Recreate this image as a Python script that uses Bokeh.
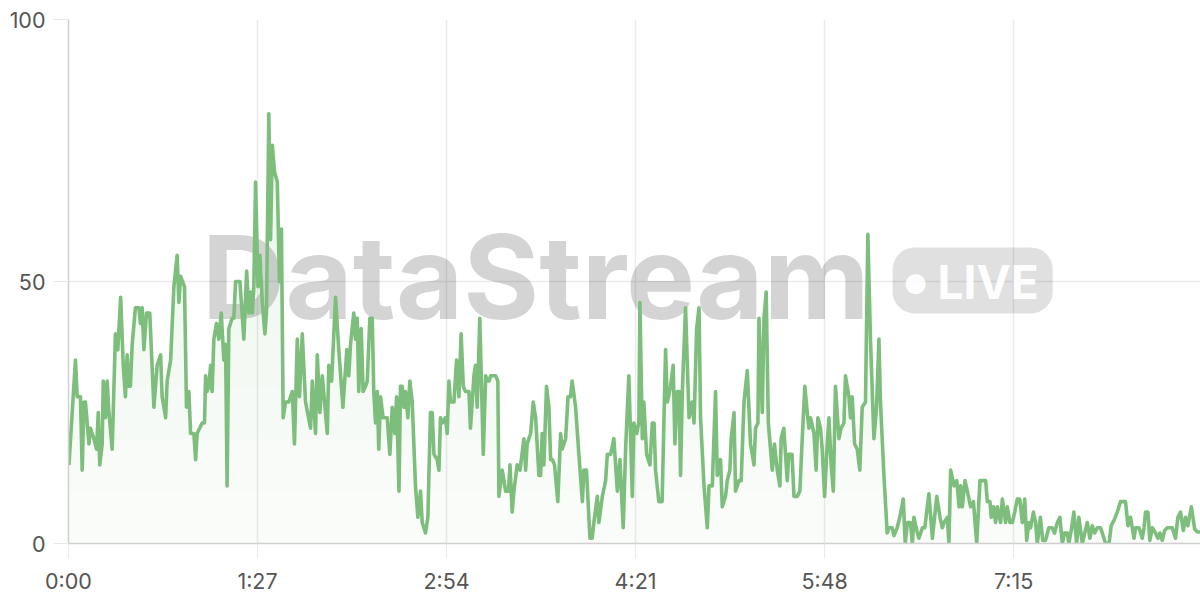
import numpy as np
from bokeh.plotting import figure
from bokeh.models import Range1d, FixedTicker, Label, BoxAnnotation
from bokeh.embed import file_html
from bokeh.resources import INLINE

# ---- data (elapsed seconds, value) ----
seconds = [
    0.2, 3.2, 4.0, 5.5, 6.3, 7.1, 7.8, 9.4, 10.1, 11.7, 12.9, 13.7, 14.4, 15.5, 16.0, 17.0, 17.8, 18.6, 20.1,
    21.6, 22.7, 24.0, 25.2, 26.2, 27.0, 27.8, 28.5, 29.3, 30.8, 32.4, 33.1, 33.9, 34.7, 35.9, 37.4, 39.3,
    40.8, 42.4, 43.1, 44.7, 45.4, 47.0, 48.5, 50.0, 50.8, 51.6, 53.4, 54.3, 55.4, 56.2, 57.7, 58.5, 59.2,
    61.5, 62.6, 63.1, 63.8, 64.6, 65.4, 66.1, 66.9, 68.1, 69.2, 70.3, 71.5, 72.3, 73.0, 73.8, 75.3, 76.1,
    76.9, 78.9, 80.7, 82.0, 83.0, 83.8, 84.6, 85.3, 86.1, 87.2, 88.1, 89.2, 90.4, 91.1, 92.2, 93.0, 93.8,
    94.8, 96.1, 97.1, 98.0, 98.8, 99.9, 101.4, 103.0, 104.0, 105.3, 106.3, 107.6, 109.1, 111.4, 112.2,
    113.7, 114.5, 115.7, 116.8, 119.1, 119.8, 121.1, 122.9, 124.4, 126.3, 128.1, 129.0, 129.8, 131.3,
    132.1, 132.9, 133.6, 134.7, 135.6, 136.7, 137.5, 138.7, 139.8, 140.5, 141.3, 142.1, 142.8, 143.6,
    144.8, 146.7, 147.9, 149.0, 150.2, 151.0, 152.1, 152.8, 153.6, 154.4, 155.1, 156.2, 157.1, 158.2,
    159.7, 160.8, 162.0, 162.8, 164.3, 165.4, 166.6, 167.4, 168.2, 169.7, 170.5, 171.2, 172.0, 173.5,
    174.3, 175.1, 175.8, 177.4, 178.6, 179.7, 180.7, 181.7, 182.7, 184.3, 185.0, 186.6, 187.3, 188.1,
    189.3, 190.9, 192.0, 192.7, 193.5, 194.3, 196.6, 197.6, 198.1, 199.6, 201.2, 202.5, 203.2, 204.2,
    205.0, 206.5, 207.8, 209.6, 210.4, 211.1, 212.7, 213.9, 215.0, 216.5, 217.3, 218.0, 218.8, 220.0,
    221.1, 221.9, 222.7, 223.7, 225.2, 226.5, 227.2, 228.8, 229.9, 231.0, 231.8, 233.4, 234.9, 236.5,
    237.2, 238.4, 240.0, 241.0, 241.8, 243.4, 244.1, 245.7, 247.2, 248.0, 249.5, 251.0, 252.6, 253.8,
    255.3, 256.4, 257.9, 259.5, 260.2, 261.5, 262.5, 263.0, 264.1, 264.8, 266.1, 267.6, 268.7, 269.5,
    270.2, 271.7, 273.2, 274.8, 275.6, 277.1, 278.3, 279.1, 280.2, 281.0, 281.7, 282.5, 284.0, 285.6,
    287.1, 287.9, 289.1, 290.2, 290.9, 292.5, 294.0, 294.8, 296.3, 297.8, 298.6, 300.1, 300.9, 302.4,
    303.2, 304.4, 305.0, 306.3, 307.0, 308.6, 309.6, 310.9, 312.4, 313.9, 315.5, 316.2, 317.3, 317.8,
    319.3, 320.1, 321.1, 322.1, 323.9, 324.9, 326.2, 327.4, 328.0, 329.2, 330.8, 331.5, 333.0, 333.9,
    335.4, 336.6, 337.7, 338.9, 340.0, 340.8, 341.5, 343.1, 344.1, 344.9, 346.1, 346.9, 348.0, 349.2,
    350.0, 351.0, 352.0, 353.0, 354.6, 355.6, 356.9, 357.6, 359.2, 359.9, 360.7, 361.8, 363.0, 364.2,
    365.3, 366.8, 367.9, 369.1, 370.7, 371.9, 373.0, 373.7, 375.3, 376.8, 377.6, 379.1, 379.9, 381.4,
    382.6, 384.2, 385.1, 386.1, 387.5, 388.4, 389.1, 390.7, 391.4, 393.0, 394.1, 396.0, 397.6, 399.6,
    401.1, 402.2, 403.0, 404.5, 405.2, 406.0, 407.6, 408.8, 409.9, 410.6, 411.4, 412.6, 413.7, 415.2,
    416.5, 418.0, 419.5, 422.1, 422.9, 424.1, 424.7, 425.7, 426.7, 427.5, 429.0, 429.8, 431.3, 432.1,
    433.3, 434.4, 435.5, 436.7, 437.8, 439.0, 440.1, 441.0, 442.1, 442.8, 444.1, 445.1, 445.9, 447.3,
    448.4, 449.7, 451.2, 452.7, 453.8, 455.1, 456.3, 457.4, 458.4, 459.7, 460.4, 461.5, 462.7, 464.0,
    465.0, 466.6, 467.7, 468.9, 470.1, 471.2, 472.3, 473.5, 475.0, 475.8, 477.3, 478.9, 479.9, 481.2,
    482.7, 484.2, 486.5, 487.6, 488.8, 490.4, 491.1, 492.7, 494.2, 495.0, 495.7, 496.8, 497.7, 498.8,
    500.3, 501.4, 502.3, 503.4, 504.5, 505.7, 508.0, 509.5, 510.6, 511.8, 513.1, 514.1, 515.2, 516.8,
    518.3, 519.5, 520.8,
]
values = [
    15, 35, 28, 28, 14, 27, 27, 19, 22, 20, 18, 25, 15, 19, 31, 24, 31, 25, 18,
    40, 37, 47, 34, 28, 36, 30, 30, 38, 45, 45, 42, 45, 37, 44, 44, 26,
    34, 36, 28, 24, 31, 35, 49, 55, 46, 51, 49, 26, 29, 21, 21, 16, 21,
    23, 23, 32, 29, 30, 34, 29, 39, 42, 39, 44, 35, 38, 11, 41, 43, 43,
    50, 50, 39, 52, 44, 48, 44, 49, 69, 49, 55, 46, 40, 44, 82, 58, 76,
    71, 69, 50, 60, 24, 27, 27, 29, 19, 39, 28, 40, 27, 22, 31,
    21, 36, 25, 32, 21, 34, 31, 47, 37, 26, 37, 32, 38, 44,
    39, 43, 29, 41, 29, 30, 31, 43, 43, 29, 23, 29, 18, 28,
    24, 24, 17, 26, 21, 28, 10, 30, 30, 26, 29, 24, 31, 27,
    11, 5, 10, 4, 2, 5, 25, 25, 17, 16, 14, 24, 23, 24,
    21, 31, 27, 27, 35, 28, 40, 30, 29, 29, 22, 32, 34, 26,
    43, 17, 32, 31, 31, 32, 32, 31, 9, 14, 10, 10, 15, 6,
    10, 15, 14, 20, 14, 19, 21, 27, 24, 13, 13, 21, 15, 30,
    26, 16, 16, 15, 8, 21, 18, 20, 28, 28, 31, 26, 17, 8,
    14, 14, 1, 1, 4, 9, 4, 9, 12, 17, 17, 20, 10, 16,
    3, 18, 32, 9, 23, 21, 23, 46, 20, 27, 17, 15, 23, 23,
    14, 8, 8, 37, 27, 30, 34, 19, 29, 29, 13, 29, 45, 24,
    27, 23, 41, 45, 24, 11, 3, 11, 11, 29, 13, 16, 7, 9,
    12, 14, 20, 25, 10, 12, 12, 27, 33, 19, 15, 22, 23, 43,
    25, 43, 48, 23, 14, 19, 14, 11, 20, 22, 12, 17, 17, 9,
    9, 10, 20, 30, 25, 22, 24, 21, 14, 24, 22, 18, 9, 19,
    24, 15, 10, 30, 20, 22, 23, 32, 28, 24, 28, 19, 18, 14,
    26, 27, 59, 39, 20, 26, 39, 27, 13, 2, 3, 3, 1.5, 3,
    5, 8.5, 0, 4, 4, 0, 5, 2, 1, 3, 3, 9.5, 1, 9,
    5, 3, 4, 5, 0, 14, 11, 12, 7, 11, 7, 12, 10, 7,
    8, 0, 12, 12, 8, 8, 5, 7, 4, 7, 4, 8.5, 4, 7,
    4, 4, 6, 8.5, 8.5, 4, 8.5, 0.6, 4, 3, 6, 4, 0, 5,
    0.6, 0.6, 3, 3, 2, 4, 5, 0, 2, 2, 0, 2.5, 6, 0,
    5, 0, 2, 4, 1, 3.4, 2, 3, 3, 2, 0, 0, 3.4, 4.4,
    6, 8, 8, 3.4, 5, 1, 3, 3, 1, 3, 6, 6, 0.6, 3,
    2, 1, 2, 0.6, 2.5, 3, 3, 1, 5, 6, 2.5, 5, 3.4, 7,
    2.8, 2.2, 2.2,
]

x_tick_seconds = [0, 87, 174, 261, 348, 435]
x_tick_labels = ["0:00", "1:27", "2:54", "4:21", "5:48", "7:15"]
y_ticks = [0, 50, 100]

GREEN = "#7dbe7d"
FONT = "Inter"

x = np.array(seconds, dtype=float)
v = np.array(values, dtype=float)

p = figure(width=1200, height=600,
           x_range=Range1d(0, 521), y_range=Range1d(0, 100),
           output_backend="svg", toolbar_location=None,
           min_border_left=68, min_border_right=0,
           min_border_top=19, min_border_bottom=57)
p.outline_line_color = None
p.background_fill_color = "white"
p.border_fill_color = "white"

# axes
for ax in (p.xaxis[0], p.yaxis[0]):
    ax.axis_line_color = "#d0d0d0"
    ax.axis_line_width = 1.5
    ax.major_tick_line_color = "#e8e8e8"
    ax.major_tick_out = 15
    ax.major_tick_in = 0
    ax.minor_tick_line_color = None
    ax.major_label_text_font = FONT
    ax.major_label_text_font_size = "21.5px"
    ax.major_label_text_color = "#555555"

p.xaxis.ticker = FixedTicker(ticks=x_tick_seconds)
p.xaxis.major_label_overrides = {t: lab for t, lab in zip(x_tick_seconds, x_tick_labels)}
p.xaxis.major_label_standoff = 9
p.yaxis.ticker = FixedTicker(ticks=y_ticks)
p.yaxis.major_label_standoff = 8

p.xgrid.ticker = FixedTicker(ticks=x_tick_seconds)
p.ygrid.ticker = FixedTicker(ticks=y_ticks)
p.xgrid.grid_line_color = "#ebebeb"
p.ygrid.grid_line_color = "#ebebeb"
p.xgrid.grid_line_width = 1.5
p.ygrid.grid_line_width = 1.5

# watermark
wm = Label(x=215, y=50.9, text="DataStream", text_font=FONT, text_font_style="bold",
           text_font_size="116px", text_color="black", text_alpha=0.17,
           text_align="center", text_baseline="alphabetic", level="underlay")
p.add_layout(wm)
badge = BoxAnnotation(left=379.3, right=453, bottom=43.9, top=56.5,
                      fill_color="black", fill_alpha=0.12, line_color=None,
                      border_radius=22, level="underlay")
p.add_layout(badge)
live = Label(x=400, y=50.0, text="LIVE", text_font=FONT, text_font_style="bold",
             text_font_size="46px", text_color="white", text_alpha=0.95,
             text_align="left", text_baseline="alphabetic", level="underlay")
p.add_layout(live)
dot = Label(x=389.9, y=50, text="\u25CF", text_font="DejaVu Sans",
            text_font_size="26px", text_color="white", text_alpha=0.95,
            text_align="center", text_baseline="middle", level="underlay")
p.add_layout(dot)

# area with a soft vertical fade
p.varea(x=x, y1=0, y2=v, fill_color=GREEN, fill_alpha=0.04)
for lvl in range(10, 100, 10):
    p.varea(x=x, y1=lvl, y2=np.maximum(v, lvl), fill_color=GREEN, fill_alpha=0.014)

p.line(x, v, line_color=GREEN, line_width=3.6, line_join="round")

open("out.html", "w").write(file_html(p, INLINE))
